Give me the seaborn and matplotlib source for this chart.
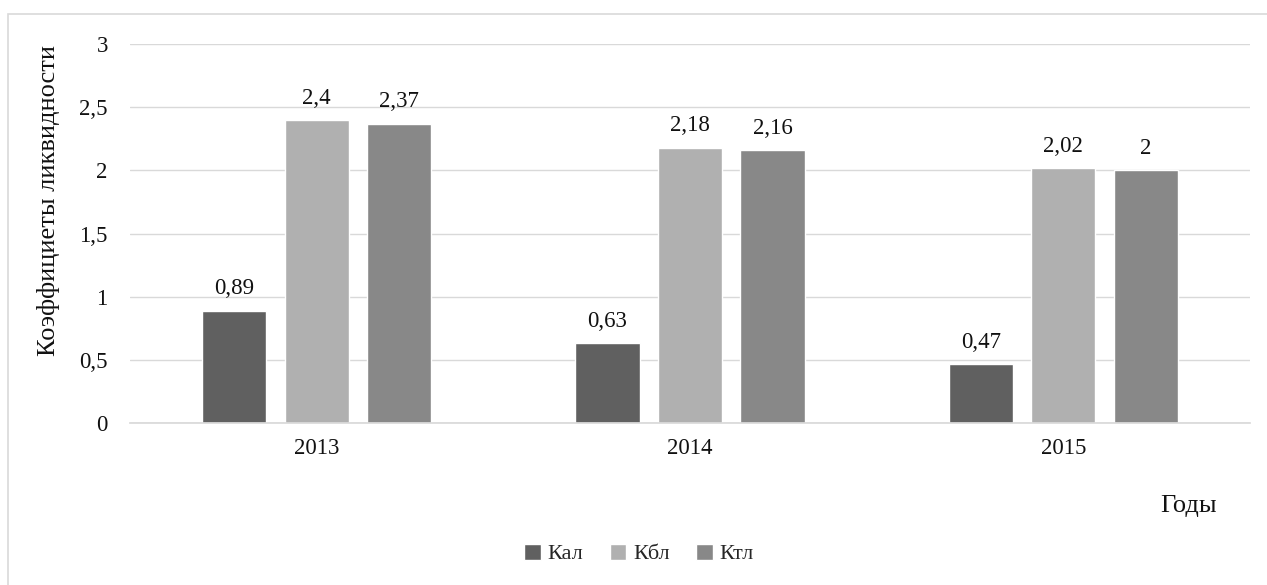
import matplotlib
matplotlib.use("Agg")
import matplotlib.pyplot as plt
import seaborn as sns
import pandas as pd
from matplotlib.patches import Rectangle

years = ["2013", "2014", "2015"]
series = ["Кал", "Кбл", "Ктл"]
kal = [0.89, 0.63, 0.47]
kbl = [2.4, 2.18, 2.02]
ktl = [2.37, 2.16, 2.0]
colors = ["#606060", "#b0b0b0", "#888888"]
yticks = [0, 0.5, 1, 1.5, 2, 2.5, 3]

rows = []
for name, vals in zip(series, [kal, kbl, ktl]):
    for y, v in zip(years, vals):
        rows.append({"Год": y, "Серия": name, "Значение": v})
df = pd.DataFrame(rows)

sns.set_theme(style="white")
plt.rcParams["font.family"] = ["Liberation Serif", "DejaVu Serif"]

fig = plt.figure(figsize=(12.67, 5.85), dpi=100)
ax = fig.add_axes([130/1267, 1-423/585, 1120/1267, 379/585])

sns.barplot(data=df, x="Год", y="Значение", hue="Серия", hue_order=series,
            palette=colors, width=0.663, gap=0.223, ax=ax, legend=True,
            saturation=1)

def fmt(v):
    s = f"{v:.2f}".rstrip("0").rstrip(".")
    return s.replace(".", ",")

for cont in ax.containers:
    ax.bar_label(cont, labels=[fmt(b.get_height()) for b in cont], padding=8,
                 fontsize=16.5, color="#111111")

ax.set_ylim(0, 3)
ax.set_yticks(yticks)
ax.set_yticklabels([fmt(t) for t in yticks])
ax.set_xlim(-0.5, 2.5)
ax.grid(axis="y", color="#d9d9d9", linewidth=1)
ax.set_axisbelow(True)
for s in ["top", "right", "left"]:
    ax.spines[s].set_visible(False)
ax.spines["bottom"].set_color("#d9d9d9")
ax.tick_params(axis="both", length=0, labelsize=16.5, colors="#111111")
ax.tick_params(axis="x", pad=11)
ax.tick_params(axis="y", pad=16)
ax.set_xlabel("")
ax.set_ylabel("")

fig.text(48/1267, 1-201/585, "Коэффициеты ликвидности", rotation=90,
         ha="center", va="center", fontsize=19, color="#111111")
fig.text(1189/1267, 1-506/585, "Годы", ha="center", va="center",
         fontsize=19, color="#111111")

handles, labels = ax.get_legend_handles_labels()
ax.get_legend().remove()
fig.legend(handles, labels, loc="center", bbox_to_anchor=(639/1267, 1-554/585),
           ncol=3, frameon=False, fontsize=16, handlelength=0.75,
           handleheight=0.75, handletextpad=0.3, columnspacing=1.2)

fig.patches.append(Rectangle((8/1267, -0.1), 1.2, 1-14/585+0.1,
                             transform=fig.transFigure, fill=False,
                             edgecolor="#d9d9d9", linewidth=1.2))

fig.savefig("out.png", dpi=100)
